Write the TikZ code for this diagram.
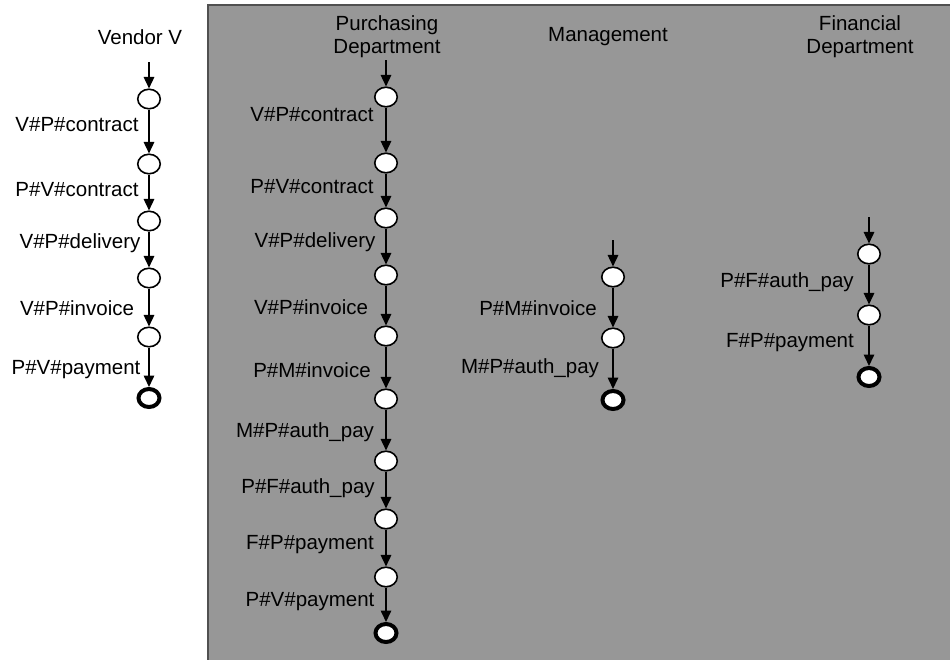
\documentclass[tikz,border=0pt]{standalone}
\usepackage{fontspec}
\setmainfont{Liberation Sans}
\usetikzlibrary{shapes.geometric,arrows.meta}
\definecolor{lanegray}{RGB}{151,151,151}
\definecolor{laneedge}{RGB}{80,80,80}
\newcommand\wffont{\fontsize{20.5}{23}\selectfont}
\tikzset{
  state/.style={ellipse, draw=black, fill=white, line width=1.6pt,
    minimum width=22.5pt, minimum height=19.5pt, inner sep=0pt},
  final/.style={state, line width=4pt, minimum width=21pt, minimum height=18pt},
  flow/.style={-{Triangle[length=11.5pt,width=10.5pt]}, line width=1.6pt},
  msg/.style={font=\wffont, inner sep=0pt},
  head/.style={font=\wffont, align=center, inner sep=0pt}
}
\begin{document}
\begin{tikzpicture}[x=1pt,y=-1pt]
\useasboundingbox (0,0) rectangle (950,659);
\fill[white] (0,0) rectangle (950,659);
% shaded area holding the three internal departments
\fill[lanegray] (208,5) rectangle (952,661);
\draw[laneedge, line width=1.5pt] (952,5) -- (208,5) -- (208,661);

% ---------- Vendor V ----------
\node[head] (hv) at (140,37) {Vendor V};
\coordinate (vs) at (149,62);
\node[state] (v1) at (149,99) {};
\node[state] (v2) at (149,164) {};
\node[state] (v3) at (149,221) {};
\node[state] (v4) at (149,278) {};
\node[state] (v5) at (149,337) {};
\node[final] (v6) at (149,398) {};
\draw[flow] (vs) -- (v1);
\draw[flow] (v1) -- (v2);
\draw[flow] (v2) -- (v3);
\draw[flow] (v3) -- (v4);
\draw[flow] (v4) -- (v5);
\draw[flow] (v5) -- (v6);
\node[msg] (lv1) at (77,125) {V\#P\#contract};
\node[msg] (lv2) at (77,190) {P\#V\#contract};
\node[msg] (lv3) at (80,243) {V\#P\#delivery};
\node[msg] (lv4) at (77,308) {V\#P\#invoice};
\node[msg] (lv5) at (76,370) {P\#V\#payment};

% ---------- Purchasing Department ----------
\node[head] (hp) at (387,36.5) {Purchasing\\Department};
\coordinate (ps) at (386,60);
\node[state] (p1) at (386,97) {};
\node[state] (p2) at (386,163) {};
\node[state] (p3) at (386,218) {};
\node[state] (p4) at (386,275) {};
\node[state] (p5) at (386,336) {};
\node[state] (p6) at (386,399) {};
\node[state] (p7) at (386,461) {};
\node[state] (p8) at (386,519) {};
\node[state] (p9) at (386,577) {};
\node[final] (p10) at (386,633) {};
\draw[flow] (ps) -- (p1);
\draw[flow] (p1) -- (p2);
\draw[flow] (p2) -- (p3);
\draw[flow] (p3) -- (p4);
\draw[flow] (p4) -- (p5);
\draw[flow] (p5) -- (p6);
\draw[flow] (p6) -- (p7);
\draw[flow] (p7) -- (p8);
\draw[flow] (p8) -- (p9);
\draw[flow] (p9) -- (p10);
\node[msg] (lp1) at (312,115) {V\#P\#contract};
\node[msg] (lp2) at (312,187) {P\#V\#contract};
\node[msg] (lp3) at (315,242) {V\#P\#delivery};
\node[msg] (lp4) at (311,307) {V\#P\#invoice};
\node[msg] (lp5) at (312,370) {P\#M\#invoice};
\node[msg] (lp6) at (305,432) {M\#P\#auth\_pay};
\node[msg] (lp7) at (308,488) {P\#F\#auth\_pay};
\node[msg] (lp8) at (310,545) {F\#P\#payment};
\node[msg] (lp9) at (310,602) {P\#V\#payment};

% ---------- Management ----------
\node[head] (hm) at (608,37) {Management};
\coordinate (ms) at (613,240);
\node[state] (m1) at (613,277) {};
\node[state] (m2) at (613,338) {};
\node[final] (m3) at (613,400) {};
\draw[flow] (ms) -- (m1);
\draw[flow] (m1) -- (m2);
\draw[flow] (m2) -- (m3);
\node[msg] (lm1) at (538,308) {P\#M\#invoice};
\node[msg] (lm2) at (530,368) {M\#P\#auth\_pay};

% ---------- Financial Department ----------
\node[head] (hf) at (860,36.5) {Financial\\Department};
\coordinate (fs) at (869,217);
\node[state] (f1) at (869,254) {};
\node[state] (f2) at (869,315) {};
\node[final] (f3) at (869,377) {};
\draw[flow] (fs) -- (f1);
\draw[flow] (f1) -- (f2);
\draw[flow] (f2) -- (f3);
\node[msg] (lf1) at (787,282) {P\#F\#auth\_pay};
\node[msg] (lf2) at (790,343) {F\#P\#payment};
\end{tikzpicture}
\end{document}
